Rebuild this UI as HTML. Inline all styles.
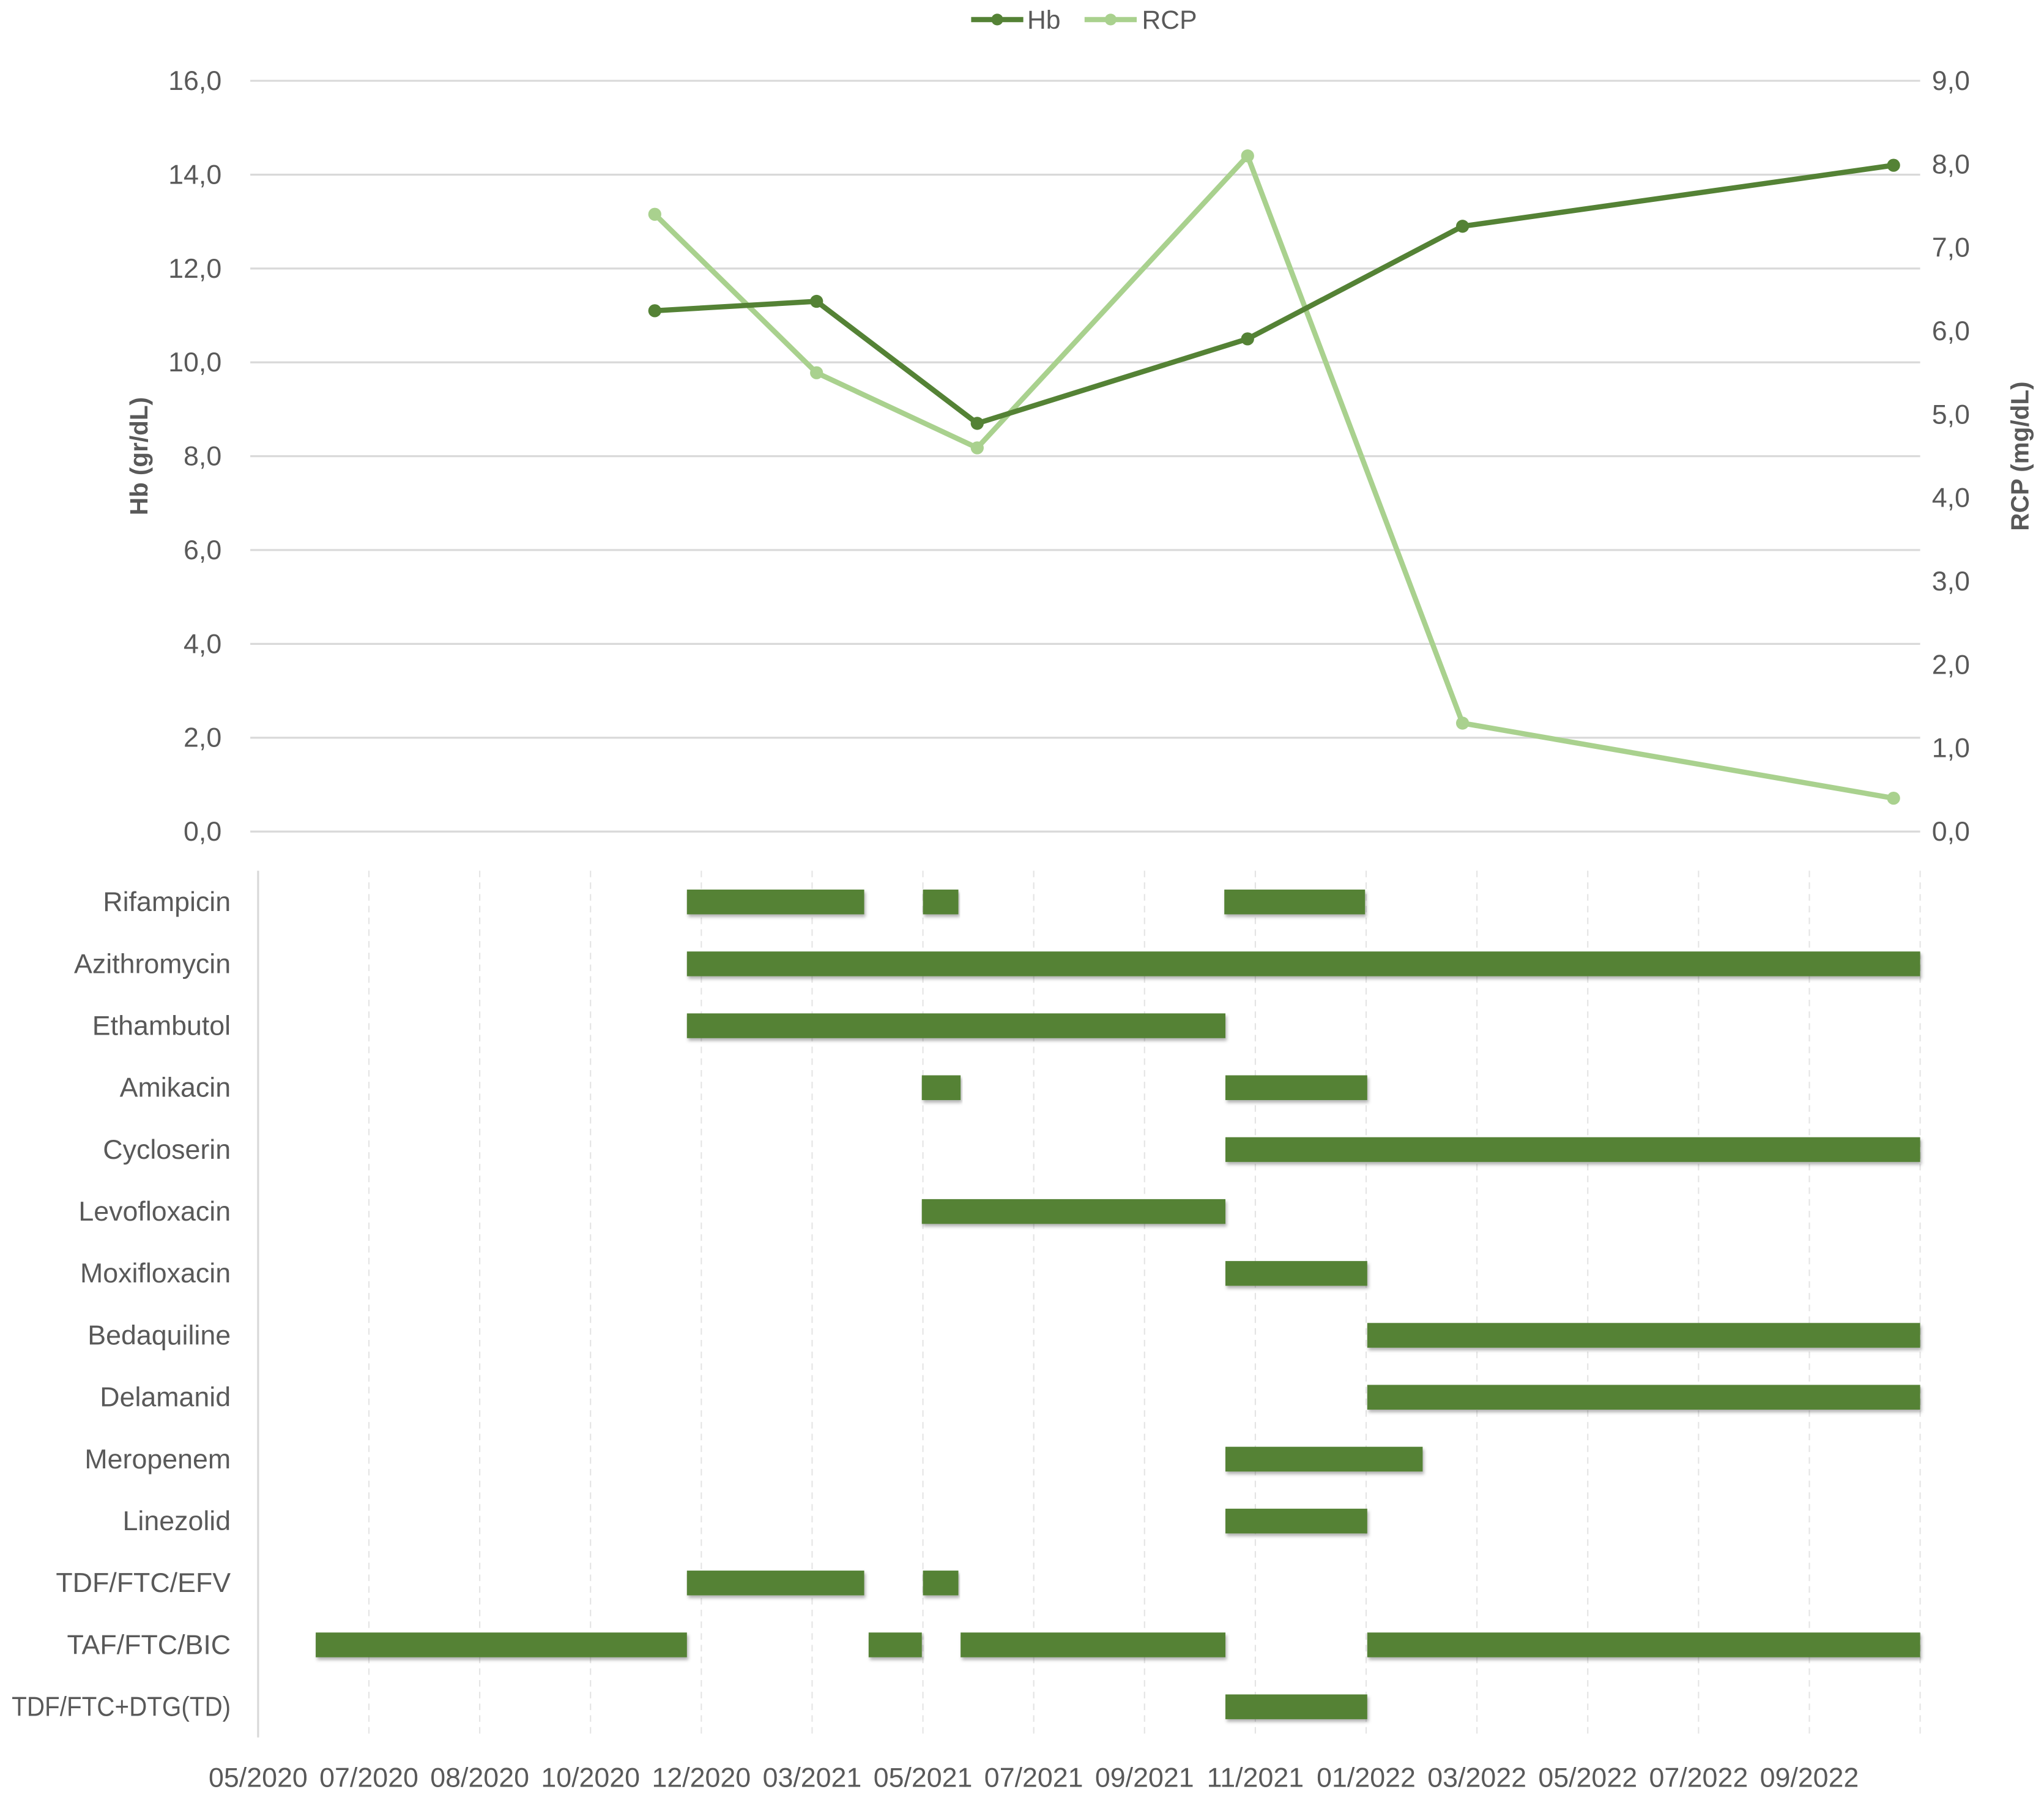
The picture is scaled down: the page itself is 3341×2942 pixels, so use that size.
<!DOCTYPE html>
<html><head><meta charset="utf-8"><style>
html,body{margin:0;padding:0;background:#fff;}
svg{display:block;}
text{font-family:"Liberation Sans Narrow","Liberation Sans",sans-serif;fill:#595959;}
</style></head><body>
<svg id="chart" width="3341" height="2942" viewBox="0 0 1568 1381" preserveAspectRatio="none" xmlns="http://www.w3.org/2000/svg">
<defs><filter id="sh" x="-5%" y="-30%" width="110%" height="180%"><feDropShadow dx="1" dy="2" stdDeviation="1.2" flood-color="#000" flood-opacity="0.3"/></filter></defs>
<g id="legend">
 <g><line x1="745" y1="15" x2="785" y2="15" stroke="#548235" stroke-width="4"/><circle cx="765" cy="15" r="4.5" fill="#548235"/><text x="788" y="22" font-size="20">Hb</text></g>
 <g><line x1="832" y1="15" x2="872" y2="15" stroke="#a9d18e" stroke-width="4"/><circle cx="852" cy="15" r="4.5" fill="#a9d18e"/><text x="876" y="22" font-size="20">RCP</text></g>
</g>
<g id="topg"></g>
<g id="botg"></g>
<text transform="translate(113,350) rotate(-90)" text-anchor="middle" font-size="19" font-weight="bold" font-family="Liberation Sans">Hb (gr/dL)</text>
<text transform="translate(1556,350) rotate(-90)" text-anchor="middle" font-size="19" font-weight="bold" font-family="Liberation Sans">RCP (mg/dL)</text>
</svg>
<script>
const hbX = [3.58, 5.04, 6.49, 8.93, 10.87, 14.76];
const hbValues = [11.1, 11.3, 8.7, 10.5, 12.9, 14.2];
const rcpValues = [7.4, 5.5, 4.6, 8.1, 1.3, 0.4];
const leftTicks = [0,2,4,6,8,10,12,14,16];
const rightTicks = [0,1,2,3,4,5,6,7,8,9];
const drugs = ["Rifampicin","Azithromycin","Ethambutol","Amikacin","Cycloserin","Levofloxacin","Moxifloxacin","Bedaquiline","Delamanid","Meropenem","Linezolid","TDF/FTC/EFV","TAF/FTC/BIC","TDF/FTC+DTG(TD)"];
const periods = [
 [[3.87,5.47],[6.0,6.32],[8.72,9.99]],
 [[3.87,15]],
 [[3.87,8.73]],
 [[5.99,6.34],[8.73,10.01]],
 [[8.73,15]],
 [[5.99,8.73]],
 [[8.73,10.01]],
 [[10.01,15]],
 [[10.01,15]],
 [[8.73,10.51]],
 [[8.73,10.01]],
 [[3.87,5.47],[6.0,6.32]],
 [[0.52,3.87],[5.51,5.99],[6.34,8.73],[10.01,15]],
 [[8.73,10.01]]
];
const dateLabels = ["05/2020","07/2020","08/2020","10/2020","12/2020","03/2021","05/2021","07/2021","09/2021","11/2021","01/2022","03/2022","05/2022","07/2022","09/2022"];

const NS="http://www.w3.org/2000/svg";
function mk(tag,attrs,parent){const e=document.createElementNS(NS,tag);for(const k in attrs)e.setAttribute(k,attrs[k]);parent.appendChild(e);return e;}
const xS=v=>198+v*85;
const yL=v=>638-v*36;
const yR=v=>638-v*64;
const topG=document.getElementById('topg'), botG=document.getElementById('botg');

leftTicks.forEach(t=>{
 const g=mk('line',{x1:192,x2:1473,y1:yL(t),y2:yL(t),stroke:'#d9d9d9','stroke-width':1.5},topG);
 
 
 const tx=mk('text',{x:170,y:yL(t)+7,'text-anchor':'end','font-size':21},topG);
 tx.textContent=t.toFixed(1).replace('.',',');
 
 
});
rightTicks.forEach(t=>{
 const tx=mk('text',{x:1482,y:yR(t)+7,'font-size':21},topG);
 tx.textContent=t.toFixed(1).replace('.',',');
 
 
});
function series(vals,yf,color,name){
 const pts=vals.map((v,i)=>xS(hbX[i])+','+yf(v)).join(' ');
 const pl=mk('polyline',{points:pts,fill:'none',stroke:color,'stroke-width':4,'stroke-linejoin':'round'},topG);
 
 
 vals.forEach((v,i)=>{
  const c=mk('circle',{cx:xS(hbX[i]),cy:yf(v),r:5,fill:color},topG);
  
  
 });
}
series(rcpValues,yR,'#a9d18e','rcp');
series(hbValues,yL,'#548235','hb');

for(let i=1;i<=15;i++){
 const l=mk('line',{x1:xS(i),x2:xS(i),y1:668,y2:1333,stroke:'#e4e4e4','stroke-width':1,'stroke-dasharray':'5,4'},botG);
 
 
}
const ax=mk('line',{x1:198,x2:198,y1:668,y2:1333,stroke:'#d9d9d9','stroke-width':1.5},botG);


drugs.forEach((d,i)=>{
 const cy=692+i*47.5;
 const attrs={x:177,y:cy+7,'text-anchor':'end','font-size':21};
 if(d.length>14){attrs.textLength=168;attrs.lengthAdjust='spacingAndGlyphs';}
 const t=mk('text',attrs,botG);
 t.textContent=d;
 
 
 periods[i].forEach(p=>{
  const r=mk('rect',{x:xS(p[0]),y:cy-9.5,width:xS(p[1])-xS(p[0]),height:19,fill:'#548235',filter:'url(#sh)'},botG);
  
  
 });
});
dateLabels.forEach((d,i)=>{
 const t=mk('text',{x:xS(i),y:1371,'text-anchor':'middle','font-size':21},botG);
 t.textContent=d;
 
 
});
</script>
</body></html>
